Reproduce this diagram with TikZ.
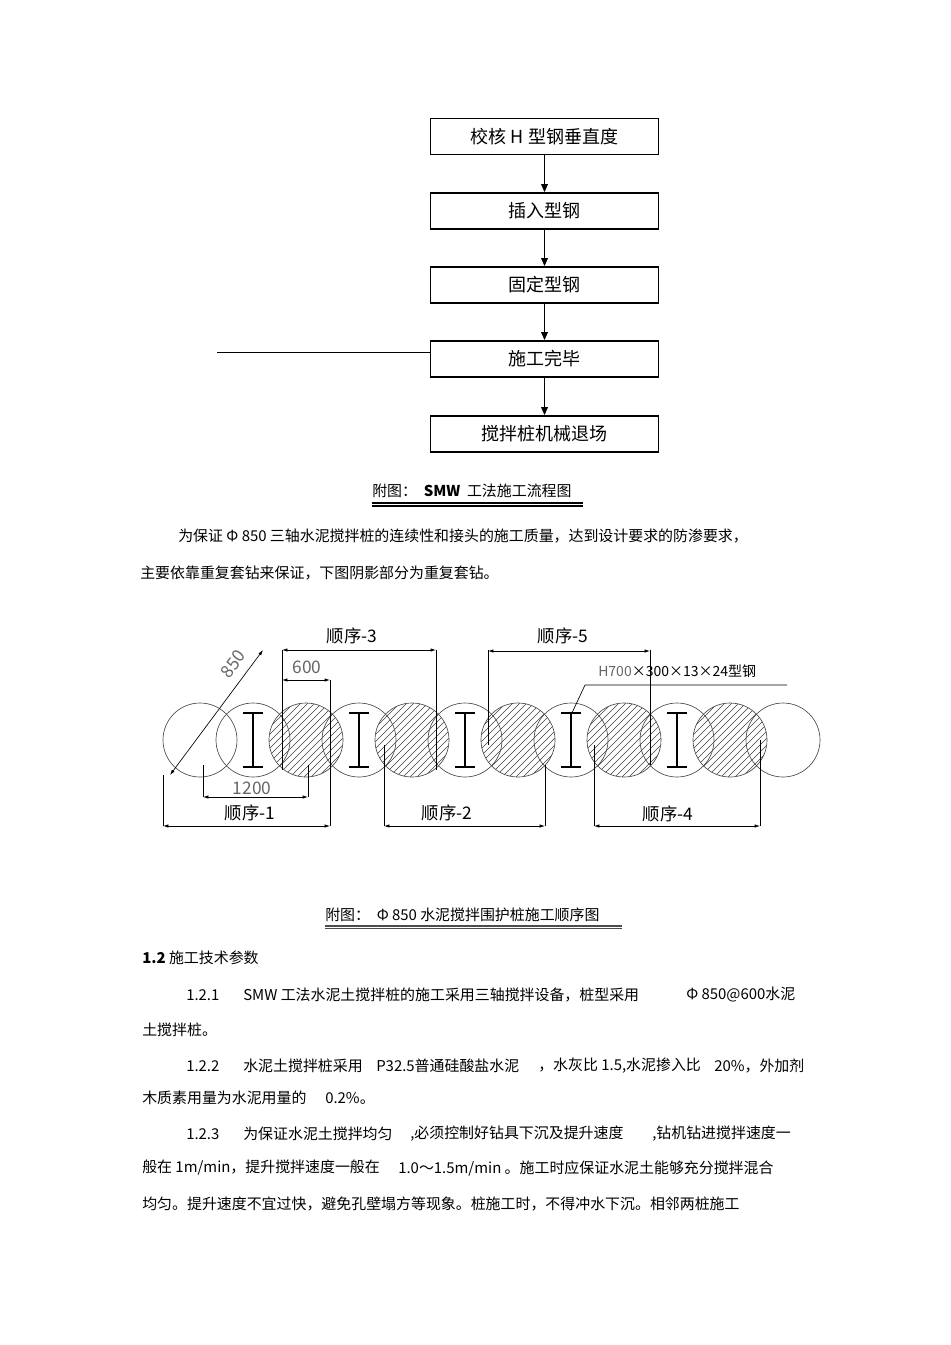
\documentclass[tikz,border=0pt]{standalone}
\usepackage{fontspec}
\setmainfont{Noto Sans CJK SC}
\usetikzlibrary{arrows.meta,calc}
\begin{document}
\begin{tikzpicture}[x=0.75pt,y=-0.75pt,
  flowbox/.style={draw,line width=1.3pt,minimum width=171pt,minimum height=27pt,inner sep=0pt,font=\fontsize{13.5}{15}\selectfont},
  flowarr/.style={-{Triangle[length=6pt,width=5pt]},line width=1pt},
  dim/.style={{Latex[length=4pt,width=2.5pt]}-{Latex[length=4pt,width=2.5pt]},line width=0.5pt},
  ext/.style={line width=0.5pt},
  pile/.style={draw=black!70,line width=0.5pt},
  lbl/.style={font=\fontsize{13}{15}\selectfont,inner sep=0pt},
  txt/.style={anchor=west,inner sep=0pt,font=\fontsize{11.2}{13}\selectfont},
  beam/.style={line width=1.2pt}]
\useasboundingbox (0,0) rectangle (950,1345);
% flowchart
\node[flowbox] (b1) at (544.5,136.5) {校核 H 型钢垂直度};
\node[flowbox] (b2) at (544.5,211) {插入型钢};
\node[flowbox] (b3) at (544.5,285) {固定型钢};
\node[flowbox] (b4) at (544.5,359) {施工完毕};
\node[flowbox] (b5) at (544.5,434) {搅拌桩机械退场};
\draw[flowarr] (b1) -- (b2);
\draw[flowarr] (b2) -- (b3);
\draw[flowarr] (b3) -- (b4);
\draw[flowarr] (b4) -- (b5);
\coordinate (lstart) at (217,352);
\draw[line width=0.6pt] (lstart) -- (lstart -| b4.west);
% caption 1
\node[txt] (c1) at (372,491) {附图：\ \ \textbf{SMW}\ \ 工法施工流程图};
\draw[line width=0.8pt] (372,503) -- (583,503) (372,506) -- (583,506);
% paragraph
\node[txt] (p1) at (178,536) {为保证 Φ 850 三轴水泥搅拌桩的连续性和接头的施工质量，达到设计要求的防渗要求，};
\node[txt] (p2) at (140,573) {主要依靠重复套钻来保证，下图阴影部分为重复套钻。};
% piles
\foreach \i in {0,...,11}{
  \pgfmathsetmacro{\cx}{200+53*\i}
  \coordinate (pc\i) at (\cx,740);
}
\foreach \i in {2,4,6,8,10}{
  \begin{scope}
    \clip (pc\i) circle (37);
    \foreach \k in {-84,-77,...,84}{
      \draw[line width=0.45pt,black!75] ($(pc\i)+(\k-45,45)$) -- ($(pc\i)+(\k+45,-45)$);
    }
  \end{scope}
}
\foreach \i in {0,...,11}{
  \draw[pile] (pc\i) circle (37);
}
\foreach \i in {1,3,5,7,9}{
  \draw[beam] ($(pc\i)+(-10,-27)$) -- ++(20,0) ($(pc\i)+(-10,27)$) -- ++(20,0) ($(pc\i)+(0,-27)$) -- ++(0,54);
}
% dimension 850
\draw[dim] (170,775) -- (263,650);
\node[lbl,rotate=53,text=black!60] (d850) at (233,664) {850};
% 600
\draw[ext] (282,650) -- (282,770);
\draw[ext] (330,680) -- (330,826);
\draw[dim] (282,680) -- (330,680);
\node[lbl,text=black!60] (d600) at (307,667) {600};
% seq 3
\draw[ext] (436,650) -- (436,770);
\draw[dim] (282,650) -- (436,650);
\node[lbl] (s3) at (352,636) {顺序-3};
% seq 5
\draw[ext] (488,650) -- (488,745);
\draw[ext] (650,650) -- (650,765);
\draw[dim] (488,651) -- (650,651);
\node[lbl] (s5) at (563,636) {顺序-5};
% seq 1
\draw[ext] (163,775) -- (163,826);
\draw[dim] (163,826) -- (330,826);
\node[lbl] (s1) at (250,813) {顺序-1};
% 1200
\draw[ext] (203,765) -- (203,797);
\draw[ext] (308,765) -- (308,797);
\draw[dim] (203,797) -- (308,797);
\node[lbl,text=black!60] (d1200) at (252,788) {1200};
% seq 2
\draw[ext] (384,745) -- (384,826);
\draw[ext] (545,765) -- (545,826);
\draw[dim] (384,826) -- (545,826);
\node[lbl] (s2) at (447,813) {顺序-2};
% seq 4
\draw[ext] (594,745) -- (594,826);
\draw[ext] (760,740) -- (760,826);
\draw[dim] (594,826) -- (760,826);
\node[lbl] (s4) at (668,814) {顺序-4};
% H label
\node[anchor=west,inner sep=0pt,font=\fontsize{10.5}{12}\selectfont] (hl) at (598,671) {\textcolor{black!60}{H700}×300×13×24型钢};
\coordinate (hr) at (787,685);
\draw[ext] (hr) -- (585,685) -- ($(pc7)+(0,-25)$);
% caption 2
\node[txt] (c2) at (325,915) {附图：\ \ Φ 850 水泥搅拌围护桩施工顺序图};
\draw[line width=0.8pt,black!70] (325,926) -- (622,926) (325,928.5) -- (622,928.5);
% text
\node[txt] at (142,958) {\textbf{1.2} 施工技术参数};
\node[txt] at (186,995) {1.2.1};
\node[txt] at (243,995) {SMW 工法水泥土搅拌桩的施工采用三轴搅拌设备，桩型采用};
\node[txt] at (686,995) {Φ 850@600水泥};
\node[txt] at (142,1030) {土搅拌桩。};
\node[txt] at (186,1066) {1.2.2};
\node[txt] at (243,1066) {水泥土搅拌桩采用};
\node[txt] at (376,1066) {P32.5普通硅酸盐水泥};
\node[txt] at (538,1066) {，水灰比 1.5,水泥掺入比};
\node[txt] at (714,1066) {20\%，外加剂};
\node[txt] at (142,1098) {木质素用量为水泥用量的};
\node[txt] at (325,1098) {0.2\%。};
\node[txt] at (186,1134) {1.2.3};
\node[txt] at (243,1134) {为保证水泥土搅拌均匀};
\node[txt] at (410,1134) {,必须控制好钻具下沉及提升速度};
\node[txt] at (652,1134) {,钻机钻进搅拌速度一};
\node[txt] at (142,1168) {般在 1m/min，提升搅拌速度一般在};
\node[txt] at (398,1168) {1.0～1.5m/min 。施工时应保证水泥土能够充分搅拌混合};
\node[txt] at (142,1204) {均匀。提升速度不宜过快，避免孔壁塌方等现象。桩施工时，不得冲水下沉。相邻两桩施工};
\end{tikzpicture}
\end{document}
